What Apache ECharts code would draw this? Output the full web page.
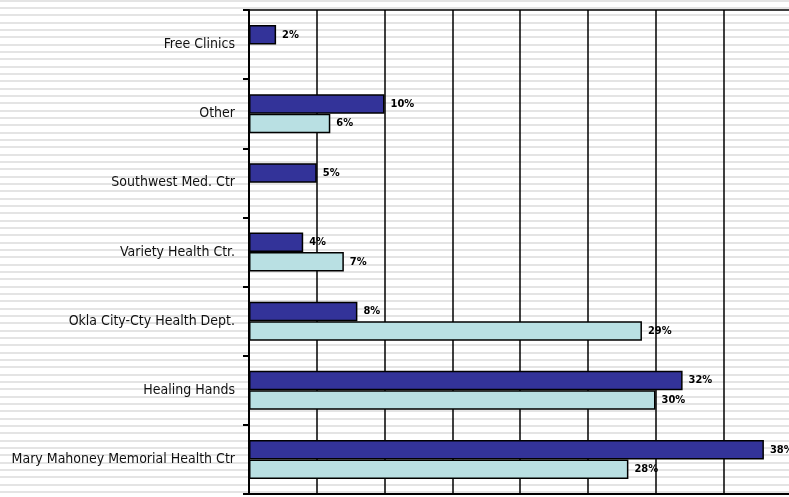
<!DOCTYPE html>
<html>
<head>
<meta charset="utf-8">
<script src="https://cdn.jsdelivr.net/npm/echarts@6/dist/echarts.min.js"></script>
<style>
html,body{margin:0;padding:0;background:#fff;}
#chart{width:789px;height:497px;}
</style>
</head>
<body>
<div id="chart"></div>
<script>
var clinics = ['Free Clinics', 'Other', 'Southwest Med. Ctr', 'Variety Health Ctr.', 'Okla City-Cty Health Dept.', 'Healing Hands', 'Mary Mahoney Memorial Health Ctr'];
var darkVals = [2, 10, 5, 4, 8, 32, 38];
var lightVals = [null, 6, null, 7, 29, 30, 28];
var xTicks = [0, 5, 10, 15, 20, 25, 30, 35, 40];

// striped background
var pat = document.createElement('canvas');
pat.width = 8; pat.height = 22;
var ctx = pat.getContext('2d');
ctx.fillStyle = '#ffffff';
ctx.fillRect(0, 0, 8, 22);
ctx.fillStyle = '#e4e4e4';
ctx.fillRect(0, 0, 8, 2);
ctx.fillRect(0, 7, 8, 2);
ctx.fillRect(0, 14, 8, 2);

var narrow = "'Liberation Sans Narrow', 'DejaVu Sans Condensed', sans-serif";

var myChart = echarts.init(document.getElementById('chart'));
var option = {
    backgroundColor: { image: pat, repeat: 'repeat' },
    animation: false,
    grid: {
        left: 249, top: 10, width: 542, height: 484,
        containLabel: false,
        outerBoundsMode: 'none',
        show: true, borderColor: '#000', borderWidth: 1.5,
        backgroundColor: 'transparent'
    },
    xAxis: {
        type: 'value',
        min: xTicks[0],
        max: xTicks[xTicks.length - 1],
        interval: xTicks[1] - xTicks[0],
        axisLabel: { show: false },
        axisTick: { show: false },
        axisLine: { show: true, lineStyle: { color: '#000', width: 2 } },
        splitLine: { show: true, lineStyle: { color: '#000', width: 1.5 } }
    },
    yAxis: {
        type: 'category',
        inverse: true,
        data: clinics,
        axisLine: { show: true, lineStyle: { color: '#000', width: 2 } },
        axisTick: { show: true, length: 6, lineStyle: { color: '#000', width: 2 } },
        axisLabel: {
            color: '#111', fontSize: 14, fontFamily: narrow,
            margin: 14, padding: [0, 0, 6, 0]
        }
    },
    series: [
        {
            type: 'bar',
            data: darkVals,
            barWidth: 19.5,
            barGap: '0%',
            itemStyle: { color: '#333399', borderColor: '#000', borderWidth: 1.5 },
            label: {
                show: true, position: 'right', distance: 6,
                formatter: '{c}%', color: '#000', fontWeight: 'bold',
                fontSize: 11, fontFamily: narrow
            }
        },
        {
            type: 'bar',
            data: lightVals,
            barWidth: 19.5,
            itemStyle: { color: '#b9e0e3', borderColor: '#000', borderWidth: 1.5 },
            label: {
                show: true, position: 'right', distance: 6,
                formatter: '{c}%', color: '#000', fontWeight: 'bold',
                fontSize: 11, fontFamily: narrow
            }
        }
    ]
};
myChart.setOption(option);
</script>
</body>
</html>
